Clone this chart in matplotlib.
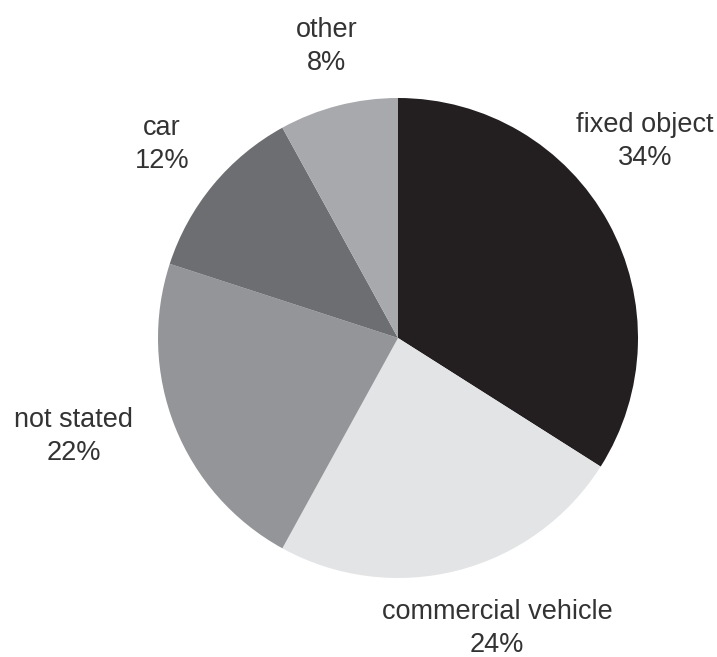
import matplotlib.pyplot as plt

categories = ['fixed object', 'commercial vehicle', 'not stated', 'car', 'other']
shares = [34, 24, 22, 12, 8]
colors = ['#231f20', '#e3e4e5', '#939598', '#6d6e71', '#a7a9ac']

W, H = 717, 657
fig = plt.figure(figsize=(W / 100, H / 100), dpi=100)
ax = fig.add_axes([0, 0, 1, 1])

# pie centred in pixel space, starting at 12 o'clock and running clockwise
cx, cy, r = 398, H - 338, 240
ax.pie(shares, colors=colors, startangle=90, counterclock=False,
       center=(cx, cy), radius=r, frame=True,
       wedgeprops=dict(linewidth=0))
ax.set_xlim(0, W)
ax.set_ylim(0, H)
ax.set_aspect('equal')
ax.axis('off')

# label anchor (x, baseline of name line) in pixels from top-left
label_pos = {
    'fixed object': (645, 132),
    'commercial vehicle': (497, 619),
    'not stated': (74, 427),
    'car': (162, 135),
    'other': (327, 37),
}
line_gap = 33
txt = dict(fontsize=19.5, color='#333333', ha='center', va='baseline',
           family=['Liberation Sans', 'DejaVu Sans'])
for name, val in zip(categories, shares):
    x, y = label_pos[name]
    ax.text(x, H - y, name, **txt)
    ax.text(x, H - y - line_gap, f'{val}%', **txt)

plt.savefig('out.png', dpi=100, facecolor='white')
